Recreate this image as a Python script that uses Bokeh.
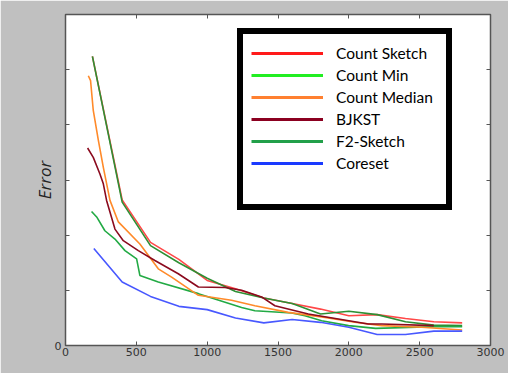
from bokeh.plotting import figure
from bokeh.models import (Range1d, FixedTicker, LinearAxis, Legend, LegendItem,
                          Label, Div, ColumnDataSource)
from bokeh.layouts import column
from bokeh.embed import file_html
from bokeh.resources import INLINE

# ---------------- data ----------------
x_ticks = [0, 500, 1000, 1500, 2000, 2500, 3000]
y_ticks = [0, 1, 2, 3, 4, 5, 6]

cs_n = [190, 400, 600, 800, 1000, 1200, 1400, 1600, 1800, 2000, 2200, 2400, 2600, 2800]
cs_err = [5.24, 2.64, 1.87, 1.56, 1.18, 1.03, 0.86, 0.76, 0.66, 0.54, 0.56, 0.49, 0.43, 0.41]

f2_n = [190, 400, 600, 800, 1000, 1200, 1400, 1600, 1800, 2000, 2200, 2400, 2600, 2800]
f2_err = [5.24, 2.60, 1.81, 1.50, 1.22, 0.98, 0.86, 0.76, 0.57, 0.62, 0.56, 0.43, 0.37, 0.36]

cm_n = [184, 220, 278, 349, 420, 502, 525, 655, 938, 1243, 1337, 1596, 1690, 1808, 1998, 2189, 2600, 2800]
cm_err = [2.43, 2.33, 2.08, 1.93, 1.72, 1.57, 1.27, 1.15, 0.94, 0.69, 0.63, 0.59, 0.54, 0.45, 0.36, 0.31, 0.34, 0.34]

cmed_n = [161, 177, 196, 232, 267, 314, 373, 525, 655, 749, 938, 1172, 1337, 1573, 1831, 2043, 2232, 2514, 2800]
cmed_err = [4.89, 4.80, 4.26, 3.72, 3.23, 2.63, 2.24, 1.84, 1.39, 1.24, 0.91, 0.82, 0.72, 0.60, 0.51, 0.42, 0.36, 0.33, 0.28]

bj_n = [156, 196, 243, 267, 290, 349, 408, 514, 631, 796, 938, 1126, 1243, 1384, 1478, 1714, 1926, 2137, 2232, 2600]
bj_err = [3.58, 3.41, 3.11, 2.93, 2.63, 2.11, 1.90, 1.72, 1.54, 1.30, 1.06, 1.05, 1.00, 0.88, 0.72, 0.57, 0.48, 0.39, 0.39, 0.36]

co_n = [200, 400, 600, 800, 1000, 1200, 1400, 1600, 1800, 2000, 2200, 2400, 2600, 2800]
co_err = [1.76, 1.15, 0.89, 0.71, 0.65, 0.50, 0.41, 0.47, 0.42, 0.33, 0.20, 0.20, 0.26, 0.26]

labels = ["Count Sketch", "Count Min", "Count Median", "BJKST", "F2-Sketch", "Coreset"]
legend_colors = ["#ff1a1a", "#22ee22", "#ff8030", "#8b0020", "#22a04a", "#1a3aff"]

caption = "2 Give amount of vector of the standard Gaussian d"

# ---------------- figure ----------------
BG = "#c0c0c0"
p = figure(width=508, height=373, output_backend="svg", toolbar_location=None,
           x_range=Range1d(0, 3000), y_range=Range1d(0, 6),
           min_border_left=65, min_border_right=18, min_border_top=14,
           min_border_bottom=28, border_fill_color=BG,
           background_fill_color="white")
p.grid.visible = False
p.outline_line_color = "#555555"
p.outline_line_width = 1.5


def style_axis(ax, show_labels):
    ax.axis_line_color = None
    ax.major_tick_in = 4
    ax.major_tick_out = 0
    ax.major_tick_line_color = "#555555"
    ax.minor_tick_line_color = None
    ax.major_label_text_font = "DejaVu Sans"
    ax.major_label_text_font_size = "11px" if show_labels else "0px"
    ax.major_label_text_color = "#333333"


xa = p.xaxis[0]
xa.ticker = FixedTicker(ticks=x_ticks)
style_axis(xa, True)
xa.major_label_standoff = 2

ya = p.yaxis[0]
ya.ticker = FixedTicker(ticks=y_ticks)
style_axis(ya, True)
ya.major_label_standoff = 4
ya.major_label_overrides = {t: "" for t in y_ticks if t != 0}
ya.axis_label = "Error"
ya.axis_label_text_font = "Open Sans"
ya.axis_label_text_font_style = "italic"
ya.axis_label_text_font_size = "17px"
ya.axis_label_text_color = "#222222"
ya.axis_label_standoff = -4

top = LinearAxis(ticker=FixedTicker(ticks=x_ticks))
style_axis(top, False)
top.major_label_standoff = 0
top.major_label_overrides = {t: "" for t in x_ticks}
p.add_layout(top, "above")

right = LinearAxis(ticker=FixedTicker(ticks=y_ticks))
style_axis(right, False)
right.major_label_standoff = 0
right.major_label_overrides = {t: "" for t in y_ticks}
p.add_layout(right, "right")

p.add_layout(Label(x=1680, y=-18, x_units="data", y_units="screen",
                   text="N (samples)", text_align="center",
                   text_baseline="middle", text_font="Open Sans",
                   text_font_style="italic", text_font_size="14px",
                   text_color="#222222"))

# ---------------- data lines ----------------
series = [
    (cs_n, cs_err, "#ff4848"),
    (f2_n, f2_err, "#2e8f34"),
    (cm_n, cm_err, "#22aa44"),
    (cmed_n, cmed_err, "#ff8a2a"),
    (bj_n, bj_err, "#8b0a1e"),
    (co_n, co_err, "#4858ff"),
]
for n, e, c in series:
    p.line(x="n", y="e", source=ColumnDataSource(dict(n=n, e=e)),
           line_color=c, line_width=1.6)

# ---------------- legend (separate thick sample lines) ----------------
nan = float("nan")
items = []
for lab, col in zip(labels, legend_colors):
    r = p.line(x=[nan], y=[nan], line_color=col, line_width=3)
    items.append(LegendItem(label=lab, renderers=[r]))
spacer = p.line(x=[nan], y=[nan], line_alpha=0)
items.append(LegendItem(label=" ", renderers=[spacer]))

legend = Legend(items=items, location=(172, 135), orientation="vertical",
                border_line_color="black", border_line_width=6,
                border_line_alpha=1.0,
                background_fill_color="white", background_fill_alpha=1,
                padding=8, spacing=0, margin=0,
                glyph_width=72, glyph_height=22, label_height=22,
                label_standoff=13, label_width=102,
                label_text_font="Lato", label_text_font_size="15.5px",
                label_text_color="black")
p.add_layout(legend)

cap = Div(text=('<div style="font-family:\'Liberation Serif\',serif;'
                'font-size:25px;line-height:25px;white-space:nowrap;'
                'overflow:hidden;height:10px;width:483px;margin-top:-2px;'
                'padding-left:25px;color:black">'
                + caption + '</div>'),
          width=508, height=8, styles={"overflow": "hidden"})

layout = column(p, cap, spacing=0)
open("out.html", "w").write(file_html(layout, INLINE))
